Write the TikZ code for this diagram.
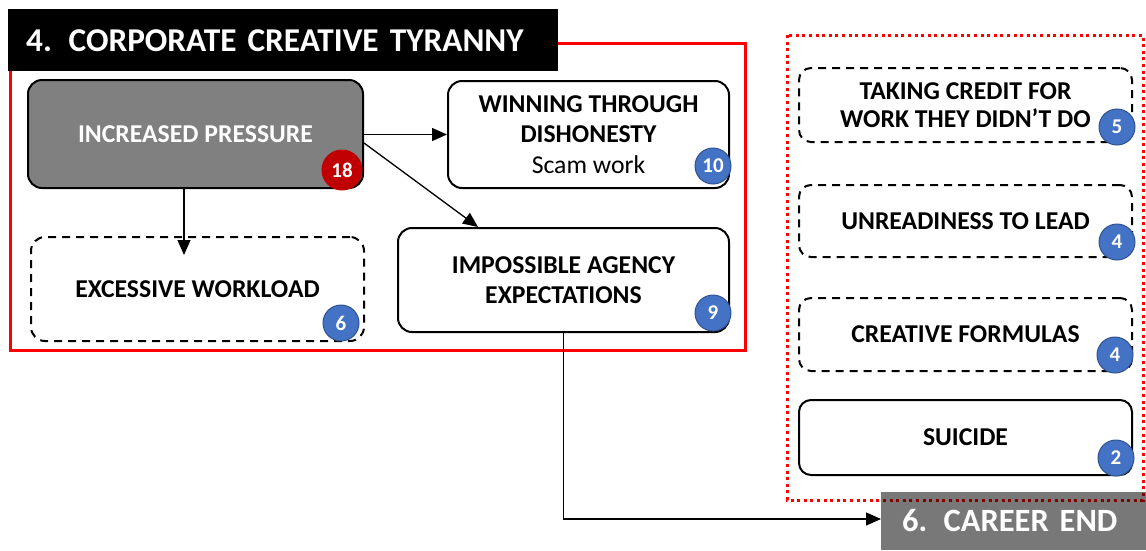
\documentclass[tikz,border=0pt]{standalone}
\usepackage{fontspec}
\setmainfont{Carlito}
\usetikzlibrary{arrows.meta,calc}
\definecolor{boxgray}{RGB}{128,128,128}
\definecolor{endgray}{RGB}{120,120,120}
\definecolor{badgeblue}{RGB}{68,114,196}
\definecolor{badgeedge}{RGB}{47,82,143}
\definecolor{badgered}{RGB}{192,0,0}
\definecolor{darkred}{RGB}{128,0,0}
\tikzset{
  card/.style={draw=black, line width=2pt, rounded corners=14pt, align=center,
    font=\fontsize{25.7}{29.5}\selectfont\bfseries, inner sep=0pt},
  dashcard/.style={card, dash pattern=on 8pt off 6pt},
  badge/.style={circle, fill=badgeblue, draw=badgeedge, line width=1pt,
    minimum size=36pt, inner sep=0pt, text=white,
    font=\fontsize{21}{21}\selectfont\bfseries},
  redbadge/.style={badge, fill=badgered, draw=badgered, minimum size=40pt},
  link/.style={line width=1.3pt, -{Triangle[length=15pt,width=13pt]}},
  header/.style={inner sep=0pt, text=white, font=\fontsize{33.3}{33.3}\selectfont\bfseries}
}
\begin{document}
\begin{tikzpicture}[x=1pt,y=-1pt]
\useasboundingbox (0,0) rectangle (1146,550);

% group frames
\draw[red, line width=3pt] (10,43) rectangle (745,350);
\draw[red, line width=3pt, dash pattern=on 3pt off 3.6pt] (787,35) rectangle (1143,500);

% section headers
\node[header, fill=black, anchor=north west, minimum width=550pt, minimum height=62pt,
  text width=514pt, inner xsep=18pt, align=left] (title) at (8,9)
  {4. CORPORATE CREATIVE TYRANNY};
\node[header, fill=endgray, anchor=west, minimum height=58pt, text width=248pt,
  inner xsep=21pt, align=left, font=\fontsize{32.5}{32.5}\selectfont\bfseries] (career) at (881,521)
  {6. CAREER END};
\begin{scope}
  \clip (881,492) rectangle (1146,550);
  \draw[darkred, line width=3pt, dash pattern=on 3pt off 3.6pt] (787,35) rectangle (1143,500);
\end{scope}

% left group
\node[card, fill=boxgray, text=white, minimum width=335pt, minimum height=108pt] (ip)
  at (195.5,134) {INCREASED PRESSURE};
\node[card, minimum width=281pt, minimum height=107pt, font=\fontsize{25.7}{30.5}\selectfont\bfseries] (win) at (588.5,134.5)
  {WINNING THROUGH\\DISHONESTY\\\mdseries Scam work};
\node[dashcard, minimum width=333pt, minimum height=104pt] (work) at (197.5,289)
  {EXCESSIVE WORKLOAD};
\node[card, minimum width=331pt, minimum height=104pt] (agency) at (563.5,280)
  {IMPOSSIBLE AGENCY\\EXPECTATIONS};

% right group
\node[dashcard, rounded corners=12pt, minimum width=333pt, minimum height=74pt,
  font=\fontsize{25.7}{28}\selectfont\bfseries] (credit) at (965.5,105)
  {TAKING CREDIT FOR\\WORK THEY DIDN’T DO};
\node[dashcard, rounded corners=12pt, minimum width=333pt, minimum height=72pt] (lead)
  at (965.5,221) {UNREADINESS TO LEAD};
\node[dashcard, rounded corners=12pt, minimum width=333pt, minimum height=73pt] (formulas)
  at (965.5,334.5) {CREATIVE FORMULAS};
\node[card, rounded corners=12pt, minimum width=333pt, minimum height=75pt] (suicide)
  at (965.5,437.5) {SUICIDE};

% counts
\node[redbadge] (nip) at (342,170) {18};
\node[badge] (nwin) at (713,166) {10};
\node[badge] (nwork) at (341,323) {6};
\node[badge] (nagency) at (713,313) {9};
\node[badge] (ncredit) at (1117,127) {5};
\node[badge] (nlead) at (1117,242) {4};
\node[badge] (nformulas) at (1115,355) {4};
\node[badge] (nsuicide) at (1116,458) {2};

% connectors
\coordinate (worktip) at (184,255);
\draw[link] ([xshift=-11.5pt]ip.south) -- (worktip);
\draw[link] (ip.east |- win.west) -- (win.west);
\draw[link] ([yshift=-9pt]ip.east) -- ([xshift=-85.5pt]agency.north);
\draw[link] (agency.south) |- ([yshift=2pt]career.west);
\end{tikzpicture}
\end{document}
